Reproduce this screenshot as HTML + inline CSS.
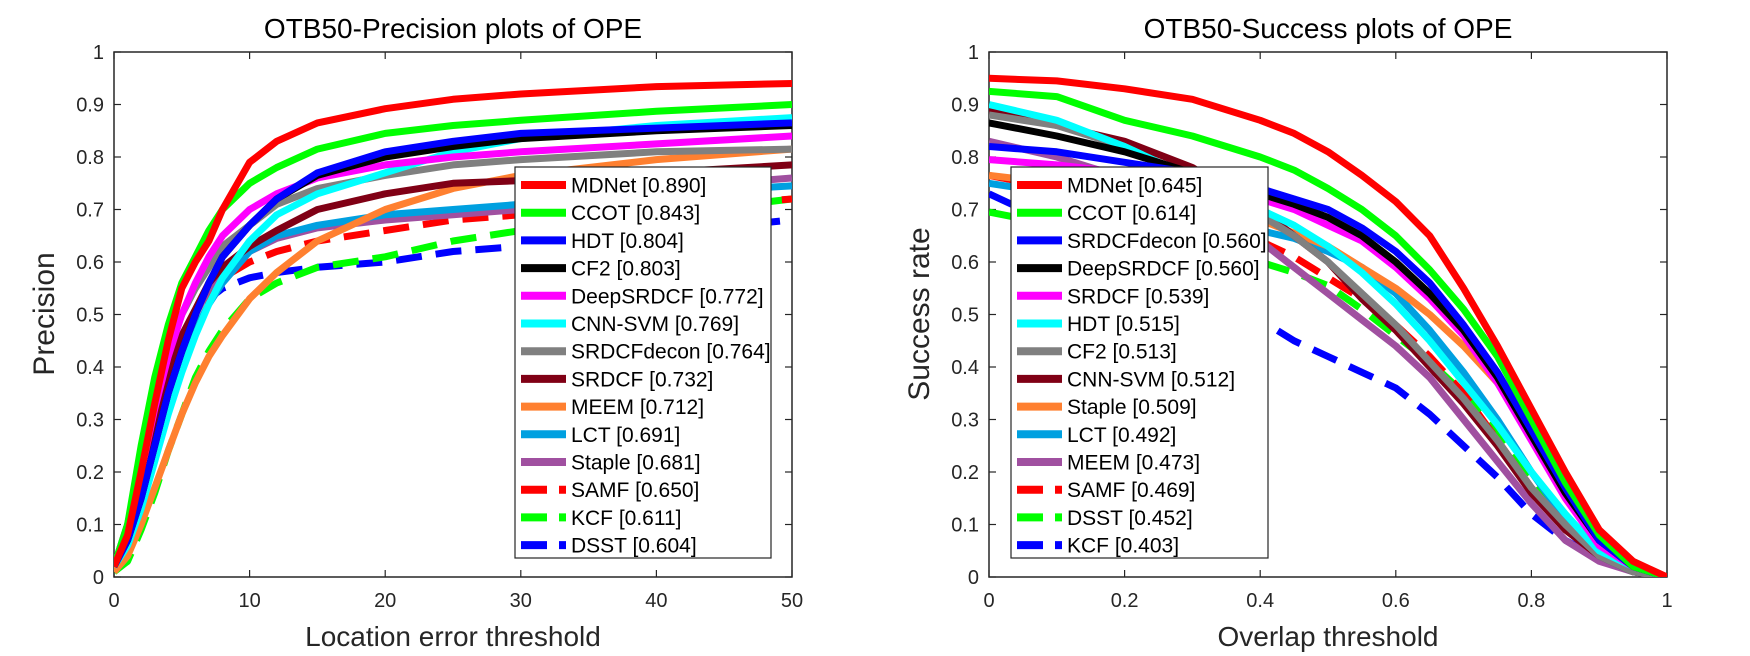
<!DOCTYPE html>
<html><head><meta charset="utf-8">
<style>
html,body{margin:0;padding:0;background:#fff;}
svg{display:block;font-family:"Liberation Sans",Arial,sans-serif;}
</style></head>
<body>
<svg id="chart" width="1750" height="656" viewBox="0 0 1750 656" xmlns="http://www.w3.org/2000/svg">
<defs>
<clipPath id="clipL"><rect x="114" y="52" width="678" height="525"/></clipPath>
<clipPath id="clipR"><rect x="989" y="52" width="678" height="525"/></clipPath>
</defs>
</svg>
<script>
// ---- data: precision plot ----
const precX = [0,1,2,3,4,5,6,7,8,10,12,15,20,25,30,40,50];
const precNames = ["MDNet [0.890]","CCOT [0.843]","HDT [0.804]","CF2 [0.803]","DeepSRDCF [0.772]","CNN-SVM [0.769]","SRDCFdecon [0.764]","SRDCF [0.732]","MEEM [0.712]","LCT [0.691]","Staple [0.681]","SAMF [0.650]","KCF [0.611]","DSST [0.604]"];
const precColors = ["#ff0000","#00ff00","#0000ff","#000000","#ff00ff","#00ffff","#808080","#800015","#ff8030","#00a0e0","#a050a0","#ff0000","#00ff00","#0000ff"];
const precDashed = [0,0,0,0,0,0,0,0,0,0,0,1,1,1];
const precMDNet = [0.02,0.08,0.2,0.33,0.45,0.55,0.6,0.64,0.7,0.79,0.83,0.865,0.892,0.91,0.92,0.934,0.94];
const precCCOT = [0.02,0.1,0.25,0.38,0.48,0.56,0.61,0.66,0.7,0.75,0.78,0.815,0.845,0.86,0.87,0.887,0.9];
const precHDT = [0.02,0.07,0.15,0.25,0.35,0.43,0.5,0.56,0.61,0.67,0.72,0.77,0.81,0.83,0.845,0.855,0.865];
const precCF2 = [0.02,0.07,0.15,0.25,0.35,0.43,0.5,0.56,0.61,0.67,0.72,0.765,0.8,0.82,0.835,0.85,0.86];
const precDeepSRDCF = [0.02,0.09,0.2,0.32,0.42,0.5,0.56,0.61,0.65,0.7,0.73,0.76,0.785,0.8,0.81,0.825,0.84];
const precCNNSVM = [0.02,0.06,0.13,0.22,0.31,0.39,0.46,0.52,0.57,0.64,0.69,0.73,0.77,0.81,0.835,0.86,0.875];
const precSRDCFdecon = [0.02,0.1,0.22,0.33,0.43,0.5,0.55,0.59,0.63,0.67,0.71,0.74,0.765,0.785,0.795,0.81,0.815];
const precSRDCF = [0.02,0.09,0.2,0.3,0.39,0.46,0.51,0.56,0.59,0.63,0.66,0.7,0.73,0.75,0.755,0.77,0.785];
const precMEEM = [0.01,0.04,0.1,0.17,0.24,0.31,0.37,0.42,0.46,0.53,0.58,0.64,0.7,0.74,0.765,0.795,0.815];
const precLCT = [0.02,0.06,0.14,0.24,0.33,0.41,0.47,0.52,0.56,0.62,0.65,0.67,0.69,0.7,0.71,0.73,0.745];
const precStaple = [0.02,0.1,0.2,0.3,0.38,0.45,0.5,0.55,0.58,0.62,0.645,0.665,0.68,0.69,0.7,0.74,0.76];
const precSAMF = [0.02,0.07,0.16,0.26,0.35,0.43,0.49,0.54,0.57,0.6,0.62,0.64,0.66,0.68,0.69,0.7,0.72];
const precKCF = [0.01,0.03,0.09,0.16,0.24,0.31,0.38,0.43,0.47,0.53,0.56,0.59,0.61,0.64,0.66,0.69,0.72];
const precDSST = [0.02,0.08,0.18,0.28,0.37,0.44,0.5,0.53,0.55,0.57,0.58,0.59,0.6,0.62,0.63,0.655,0.68];
const precSeries = [precMDNet,precCCOT,precHDT,precCF2,precDeepSRDCF,precCNNSVM,precSRDCFdecon,precSRDCF,precMEEM,precLCT,precStaple,precSAMF,precKCF,precDSST];
const precXTicks = [0,10,20,30,40,50];
const precYTicks = [0,0.1,0.2,0.3,0.4,0.5,0.6,0.7,0.8,0.9,1];

// ---- data: success plot ----
const succX = [0,0.1,0.2,0.3,0.4,0.45,0.5,0.55,0.6,0.65,0.7,0.75,0.8,0.85,0.9,0.95,1];
const succNames = ["MDNet [0.645]","CCOT [0.614]","SRDCFdecon [0.560]","DeepSRDCF [0.560]","SRDCF [0.539]","HDT [0.515]","CF2 [0.513]","CNN-SVM [0.512]","Staple [0.509]","LCT [0.492]","MEEM [0.473]","SAMF [0.469]","DSST [0.452]","KCF [0.403]"];
const succColors = ["#ff0000","#00ff00","#0000ff","#000000","#ff00ff","#00ffff","#808080","#800015","#ff8030","#00a0e0","#a050a0","#ff0000","#00ff00","#0000ff"];
const succDashed = [0,0,0,0,0,0,0,0,0,0,0,1,1,1];
const succMDNet = [0.95,0.945,0.93,0.91,0.87,0.845,0.81,0.765,0.715,0.65,0.55,0.44,0.32,0.2,0.09,0.03,0];
const succCCOT = [0.925,0.915,0.87,0.84,0.8,0.775,0.74,0.7,0.65,0.585,0.51,0.42,0.3,0.18,0.08,0.02,0];
const succSRDCFdecon = [0.82,0.81,0.79,0.77,0.74,0.72,0.7,0.665,0.62,0.56,0.48,0.39,0.28,0.17,0.07,0.02,0];
const succDeepSRDCF = [0.865,0.84,0.81,0.77,0.73,0.71,0.685,0.65,0.6,0.54,0.47,0.38,0.27,0.16,0.07,0.02,0];
const succSRDCF = [0.795,0.785,0.77,0.75,0.72,0.7,0.67,0.64,0.59,0.53,0.46,0.37,0.26,0.15,0.06,0.02,0];
const succHDT = [0.9,0.87,0.82,0.76,0.7,0.67,0.63,0.58,0.52,0.45,0.37,0.29,0.2,0.12,0.05,0.02,0];
const succCF2 = [0.88,0.86,0.82,0.76,0.69,0.65,0.6,0.54,0.48,0.41,0.34,0.26,0.17,0.1,0.04,0.01,0];
const succCNNSVM = [0.89,0.86,0.83,0.78,0.7,0.65,0.6,0.53,0.47,0.4,0.33,0.25,0.16,0.09,0.04,0.01,0];
const succStaple = [0.765,0.75,0.73,0.71,0.68,0.655,0.63,0.59,0.55,0.5,0.44,0.37,0.28,0.17,0.07,0.02,0];
const succLCT = [0.75,0.73,0.71,0.69,0.66,0.645,0.62,0.59,0.54,0.47,0.39,0.3,0.2,0.11,0.04,0.01,0];
const succMEEM = [0.83,0.8,0.76,0.71,0.64,0.59,0.54,0.49,0.44,0.38,0.3,0.22,0.14,0.07,0.03,0.01,0];
const succSAMF = [0.765,0.74,0.71,0.68,0.64,0.61,0.57,0.53,0.48,0.42,0.35,0.26,0.17,0.09,0.04,0.015,0];
const succDSST = [0.695,0.67,0.645,0.62,0.6,0.58,0.555,0.51,0.46,0.41,0.35,0.28,0.19,0.11,0.05,0.02,0];
const succKCF = [0.73,0.67,0.6,0.54,0.49,0.45,0.42,0.39,0.36,0.31,0.25,0.19,0.12,0.07,0.035,0.015,0];
const succSeries = [succMDNet,succCCOT,succSRDCFdecon,succDeepSRDCF,succSRDCF,succHDT,succCF2,succCNNSVM,succStaple,succLCT,succMEEM,succSAMF,succDSST,succKCF];
const succXTicks = [0,0.2,0.4,0.6,0.8,1];
const succYTicks = [0,0.1,0.2,0.3,0.4,0.5,0.6,0.7,0.8,0.9,1];

const NS = "http://www.w3.org/2000/svg";
const svg = document.getElementById("chart");
function mk(tag, attrs, parent){
  const e = document.createElementNS(NS, tag);
  for (const k in attrs) e.setAttribute(k, attrs[k]);
  (parent||svg).appendChild(e);
  return e;
}
function slug(s){return s.split(" ")[0].toLowerCase().replace(/[^a-z0-9]/g,"-");}

function drawPlot(o){
  const g = mk("g", {});
  
  
  const x0=o.left, x1=o.left+678, y0=577, y1=52;
  const sx = v => x0 + (v - o.xmin)/(o.xmax - o.xmin)*(x1-x0);
  const sy = v => y0 - v*(y0-y1);
  const box = mk("rect", {x:x0, y:y1, width:x1-x0, height:y0-y1, fill:"none", stroke:"#262626", "stroke-width":1.5}, g);
  
  
  o.xticks.forEach(t => {
    const px = sx(t);
    mk("line", {x1:px, y1:y0, x2:px, y2:y0-7, stroke:"#262626", "stroke-width":1.2}, g);
    mk("line", {x1:px, y1:y1, x2:px, y2:y1+7, stroke:"#262626", "stroke-width":1.2}, g);
    const tx = mk("text", {x:px, y:y0+30, "text-anchor":"middle", "font-size":20, fill:"#262626"}, g);
    tx.textContent = String(t);
    
    
  });
  o.yticks.forEach(t => {
    const py = sy(t);
    mk("line", {x1:x0, y1:py, x2:x0+7, y2:py, stroke:"#262626", "stroke-width":1.2}, g);
    mk("line", {x1:x1, y1:py, x2:x1-7, y2:py, stroke:"#262626", "stroke-width":1.2}, g);
    const tx = mk("text", {x:x0-10, y:py+7, "text-anchor":"end", "font-size":20, fill:"#262626"}, g);
    tx.textContent = String(t);
    
    
  });
  const sg = mk("g", {"clip-path":"url(#"+o.clip+")"}, g);
  for (let i=o.series.length-1;i>=0;i--){
    const d = o.series[i].map((v,j)=>(j?"L":"M")+sx(o.xs[j]).toFixed(1)+","+sy(v).toFixed(1)).join("");
    const attrs = {d:d, fill:"none", stroke:o.colors[i], "stroke-width":7, "stroke-linejoin":"round"};
    if (o.dashed[i]) attrs["stroke-dasharray"]="26,14";
    const p = mk("path", attrs, sg);
    
    
  }
  const ti = mk("text", {x:(x0+x1)/2, y:38, "text-anchor":"middle", "font-size":28, fill:"#000"}, g);
  ti.textContent = o.title;
  
  
  const xl = mk("text", {x:(x0+x1)/2, y:646, "text-anchor":"middle", "font-size":28, fill:"#262626"}, g);
  xl.textContent = o.xlabel;
  
  
  const yl = mk("text", {x:0, y:0, "text-anchor":"middle", "font-size":30, fill:"#262626", transform:"translate("+(x0-60)+",314) rotate(-90)"}, g);
  yl.textContent = o.ylabel;
  
  
  const lg = mk("g", {}, g);
  
  
  mk("rect", {x:o.legX, y:167, width:o.legW, height:391, fill:"#fff", stroke:"#262626", "stroke-width":1.2}, lg);
  o.names.forEach((n,i)=>{
    const cy = 185 + i*27.7;
    const la = {x1:o.legX+6, y1:cy, x2:o.legX+51, y2:cy, stroke:o.colors[i], "stroke-width":8};
    if (o.dashed[i]) la["stroke-dasharray"]="26,12";
    const ln = mk("line", la, lg);
    
    
    const t = mk("text", {x:o.legX+56, y:cy+7.5, "font-size":21, fill:"#000"}, lg);
    t.textContent = n;
    
    
  });
}

drawPlot({id:"precision", left:114, xmin:0, xmax:50, xs:precX, series:precSeries, names:precNames, colors:precColors, dashed:precDashed, xticks:precXTicks, yticks:precYTicks, clip:"clipL", title:"OTB50-Precision plots of OPE", xlabel:"Location error threshold", ylabel:"Precision", legX:515, legW:256});
drawPlot({id:"success", left:989, xmin:0, xmax:1, xs:succX, series:succSeries, names:succNames, colors:succColors, dashed:succDashed, xticks:succXTicks, yticks:succYTicks, clip:"clipR", title:"OTB50-Success plots of OPE", xlabel:"Overlap threshold", ylabel:"Success rate", legX:1011, legW:257});
</script>
</body></html>
